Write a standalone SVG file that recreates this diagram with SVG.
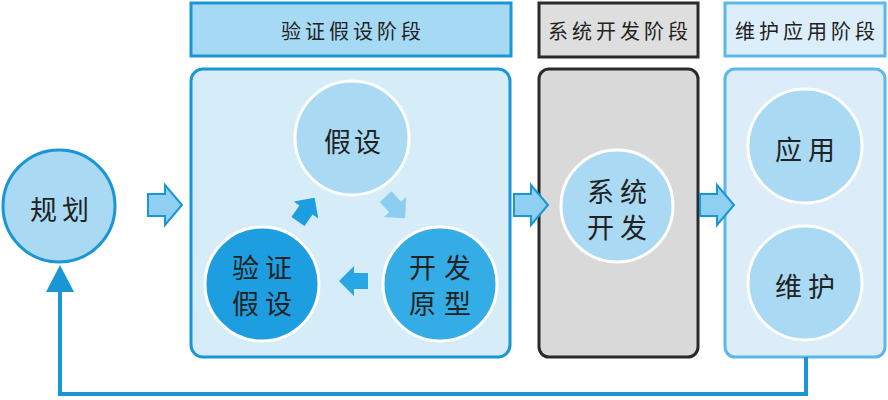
<svg xmlns="http://www.w3.org/2000/svg" width="888" height="400" viewBox="0 0 888 400">
<defs>
<style>
text{font-family:"Noto Sans CJK SC","Noto Sans",sans-serif;fill:#222;text-anchor:middle;dominant-baseline:central}
.hdr{font-size:20px;letter-spacing:4px}
.ct{font-size:27px}
.blue{stroke:#1a96d4;stroke-width:3}
.circ{stroke:#fff;stroke-width:3}
</style>
<path id="barrow" d="M-17,-11 H0 V-20 L17,0 L0,20 V11 H-17 Z"/>
<path id="sarrow" d="M-14,-8 H0 V-15 L15,0 L0,15 V8 H-14 Z"/>
</defs>
<rect width="888" height="400" fill="#fff"/>

<g id="header-verify">
<rect x="191" y="3" width="320" height="53" fill="#a6d9f4" class="blue"/>
<text x="353" y="30" class="hdr">验证假设阶段</text>
</g>
<g id="header-dev">
<rect x="539" y="3" width="159" height="54" fill="#dedede" stroke="#2a2a2a" stroke-width="3"/>
<text x="620" y="30" class="hdr">系统开发阶段</text>
</g>
<g id="header-maint">
<rect x="725" y="3" width="160" height="53" fill="#dceefa" stroke="#5bb8e8" stroke-width="3"/>
<text x="807" y="30" class="hdr">维护应用阶段</text>
</g>

<g id="panel-verify">
<rect x="191" y="69" width="319" height="288" rx="12" fill="#d6ecf8" class="blue"/>
</g>
<g id="panel-dev">
<rect x="539" y="69" width="159" height="288" rx="10" fill="#d9d9d9" stroke="#2a2a2a" stroke-width="3"/>
</g>
<g id="panel-maint">
<rect x="725" y="69" width="160" height="288" rx="10" fill="#dcecf8" stroke="#5bb8e8" stroke-width="3"/>
</g>

<g id="node-plan">
<circle cx="59" cy="206" r="56" fill="#a9d9f3" class="blue"/>
<text x="62" y="208" class="ct" letter-spacing="5">规划</text>
</g>
<g id="node-hypo">
<circle cx="352" cy="138" r="57" fill="#a9d9f3" class="circ"/>
<text x="354" y="140" class="ct" letter-spacing="3">假设</text>
</g>
<g id="node-verify">
<circle cx="262" cy="284" r="57" fill="#1d9ee0" class="circ"/>
<text x="265" y="266" class="ct" letter-spacing="6">验证</text>
<text x="265" y="302" class="ct" letter-spacing="6">假设</text>
</g>
<g id="node-proto">
<circle cx="440" cy="284" r="57" fill="#34ace6" class="circ"/>
<text x="444" y="266" class="ct" letter-spacing="8">开发</text>
<text x="444" y="302" class="ct" letter-spacing="8">原型</text>
</g>
<g id="node-sysdev">
<circle cx="617" cy="206" r="56" fill="#a9d9f3" class="circ"/>
<text x="620" y="190" class="ct" letter-spacing="6">系统</text>
<text x="620" y="226" class="ct" letter-spacing="6">开发</text>
</g>
<g id="node-apply">
<circle cx="805" cy="146" r="57" fill="#a9d9f3" class="circ"/>
<text x="808" y="148" class="ct" letter-spacing="6">应用</text>
</g>
<g id="node-maint">
<circle cx="805" cy="283" r="57" fill="#a9d9f3" class="circ"/>
<text x="808" y="285" class="ct" letter-spacing="6">维护</text>
</g>

<g id="connectors">
<use href="#barrow" transform="translate(165,205)" fill="#8fcff2" stroke="#1a96d4" stroke-width="2"/>
<use href="#barrow" transform="translate(531,205)" fill="#8fcff2" stroke="#1a96d4" stroke-width="2"/>
<use href="#barrow" transform="translate(717,205)" fill="#8fcff2" stroke="#1a96d4" stroke-width="2"/>
<use href="#sarrow" transform="translate(306,210) rotate(-55)" fill="#1d9ee0"/>
<use href="#sarrow" transform="translate(395,207) rotate(48)" fill="#8ccdf0"/>
<use href="#sarrow" transform="translate(354,281) rotate(180)" fill="#29a7e5"/>
<path d="M806,357 V394 H60 V290" fill="none" stroke="#1a96d4" stroke-width="4"/>
<polygon points="60,265 46,292 74,292" fill="#1a96d4"/>
</g>
</svg>
